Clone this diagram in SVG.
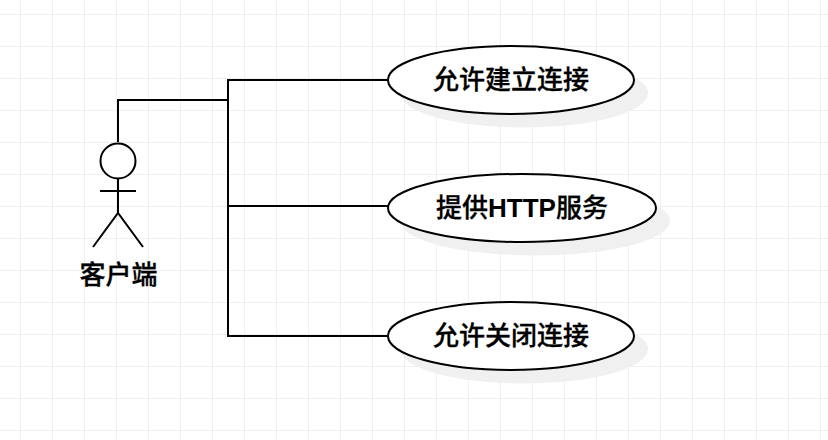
<svg xmlns="http://www.w3.org/2000/svg" width="828" height="440" viewBox="0 0 828 440">
<style>
.g{stroke:#f0f0f0;stroke-width:1;fill:none}
.s{fill:#f0f0f0;stroke:none}
.e{fill:#fff;stroke:#000;stroke-width:2}
.l{fill:none;stroke:#000;stroke-width:2}
text{font-family:"Liberation Sans","Noto Sans CJK SC",sans-serif;font-size:26px;font-weight:500;fill:#000;stroke:#000;stroke-width:.3px;text-anchor:middle}
.b{font-weight:bold;stroke:none}
</style>
<defs><pattern id="grid" width="32" height="32" patternUnits="userSpaceOnUse" x="20" y="14"><path class="g" d="M.5 0V32M0 .5H32"/></pattern></defs>
<rect width="828" height="440" fill="#fff"/>
<rect width="828" height="440" fill="url(#grid)"/>
<g id="connectors" class="l">
<path class="l" d="M118 142V100H228"/>
<path class="l" d="M388 80H228V336H388"/>
<path class="l" d="M228 206H388"/>
</g>
<g id="actor">
<circle class="e" cx="118" cy="161" r="17.5"/>
<path class="l" d="M118 178.500V213M100 191H136M93 247L118 213L143 247"/>
<text x="118.500" y="284">客户端</text>
</g>
<g id="uc1">
<ellipse class="s" cx="524" cy="93" rx="124" ry="34.500"/>
<ellipse class="e" cx="511" cy="80" rx="123" ry="34"/>
<text x="511" y="89">允许建立连接</text>
</g>
<g id="uc2">
<ellipse class="s" cx="535" cy="221" rx="135" ry="34.500"/>
<ellipse class="e" cx="522" cy="208" rx="134" ry="34"/>
<text x="522" y="217">提供<tspan class="b">HTTP</tspan>服务</text>
</g>
<g id="uc3">
<ellipse class="s" cx="524" cy="349" rx="124" ry="34.500"/>
<ellipse class="e" cx="511" cy="336" rx="123" ry="34"/>
<text x="511" y="345">允许关闭连接</text>
</g>
</svg>
